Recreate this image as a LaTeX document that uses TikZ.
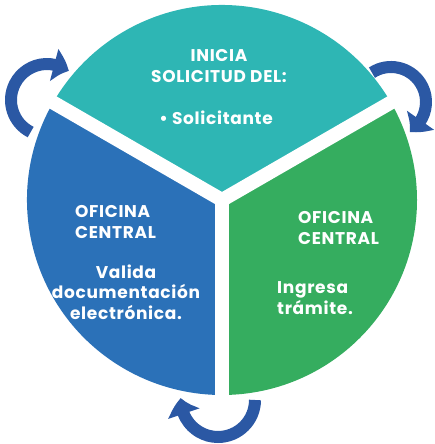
\documentclass[tikz,border=0pt]{standalone}
\usepackage{fontspec}
\setmainfont{Poppins}[LetterSpace=4]
\usetikzlibrary{arrows.meta,bending}
\definecolor{tealpart}{RGB}{46,182,180}
\definecolor{greenpart}{RGB}{53,173,95}
\definecolor{bluepart}{RGB}{43,113,184}
\definecolor{arrowblue}{RGB}{43,88,164}
\begin{document}
\begin{tikzpicture}[
			x=1pt, y=1pt,
			txt/.style = {text=white, font=\fontsize{17}{20.5}\selectfont\bfseries, inner sep=0pt},
			gap/.style = {draw=white, line width=14pt, line cap=round},
			turn/.style = {draw=arrowblue, line width=12pt, -{Triangle[width=32pt,length=16pt,bend]}},
			]
			\useasboundingbox (0,0) rectangle (435,444);
			\coordinate (c) at (222,244);
			% the three parts of the circle
			\fill[tealpart] (c) -- ++(30:195) arc[start angle=30, end angle=150, radius=195] -- cycle;
			\fill[bluepart] (c) -- ++(150:195) arc[start angle=150, end angle=270, radius=195] -- cycle;
			\fill[greenpart] (c) -- ++(270:195) arc[start angle=270, end angle=390, radius=195] -- cycle;
			\draw[gap] (c) -- ++(30:197);
			\draw[gap] (c) -- ++(150:197);
			\draw[gap] (c) -- ++(270:197);
			% turning arrows
			\coordinate (tl) at (47,344);
			\coordinate (tr) at (391,342);
			\coordinate (bt) at (218,44);
			\draw[turn] (tl) ++(243:36) arc[start angle=243, end angle=53, radius=36];
			\draw[turn] (tr) ++(123:35) arc[start angle=123, end angle=-58, radius=35];
			\draw[turn] (bt) ++(0:37) arc[start angle=0, end angle=-183, radius=37];
			% texts
			\node[txt, align=center] (inicia) at (219,378) {INICIA\\SOLICITUD DEL:};
			\node[txt] (solicitante) at (216,326) {\textbullet\ Solicitante};
			\node[txt, align=left, anchor=west] (ofiazul) at (75,222) {OFICINA\\CENTRAL};
			\node[txt, align=center] (valida) at (126,152) {Valida\\documentación\\electrónica.};
			\node[txt, align=left, anchor=west] (ofiverde) at (298,216) {OFICINA\\CENTRAL};
			\node[txt, align=left, anchor=west] (ingresa) at (277,146) {Ingresa\\trámite.};
		\end{tikzpicture}
\end{document}
